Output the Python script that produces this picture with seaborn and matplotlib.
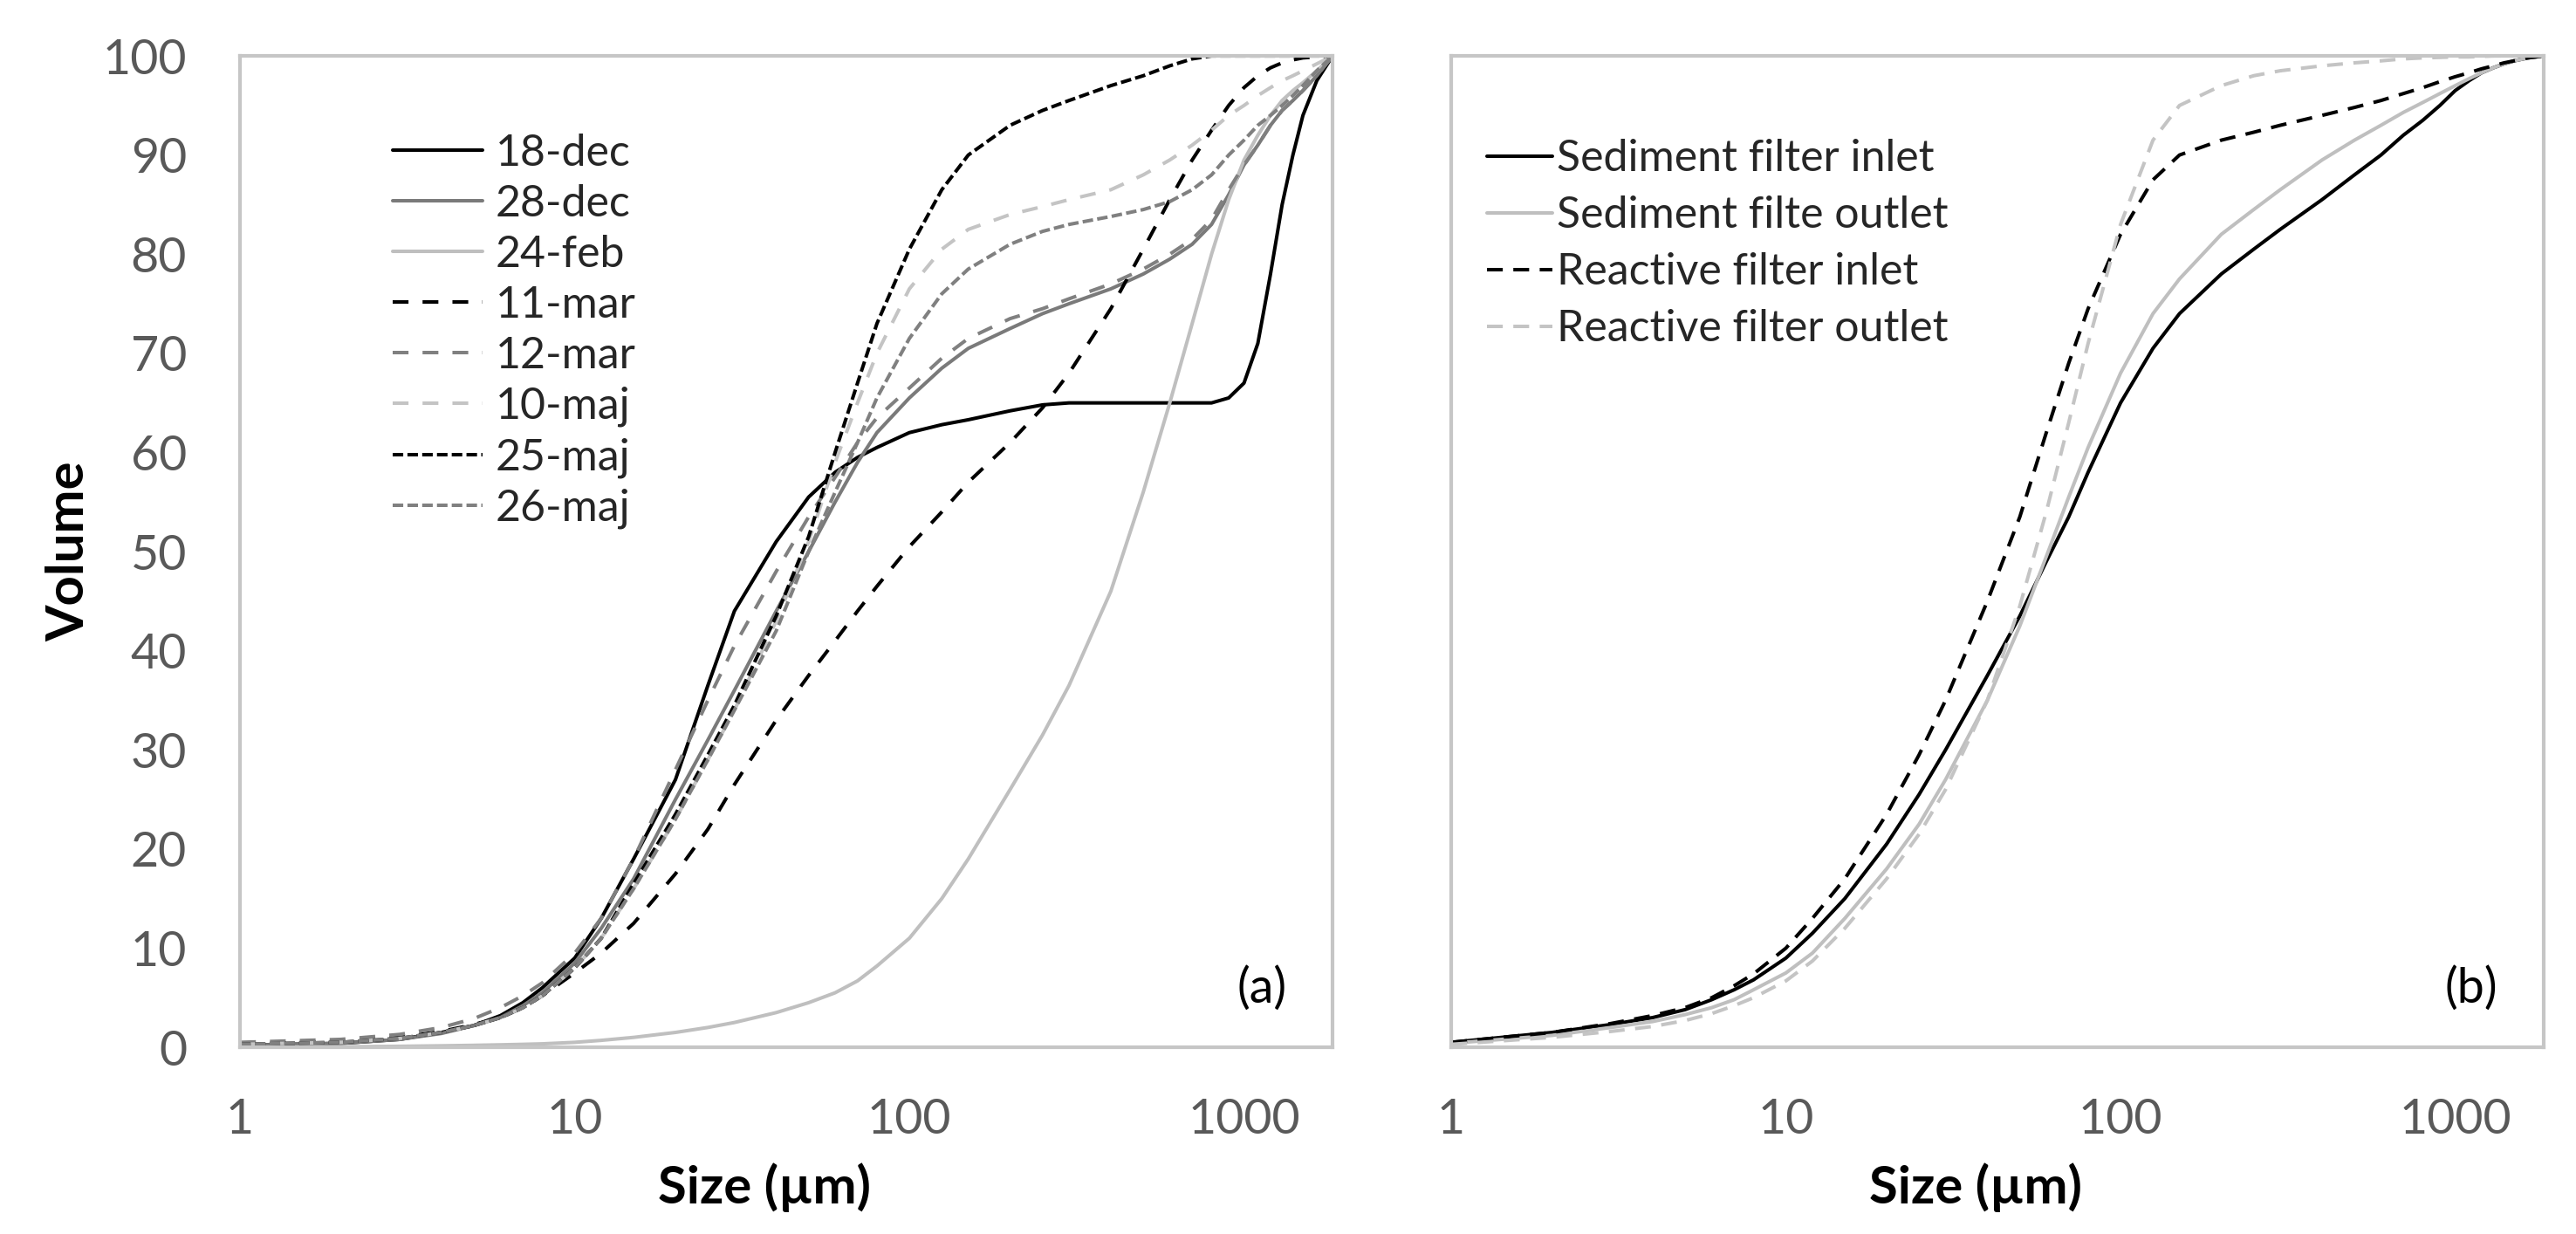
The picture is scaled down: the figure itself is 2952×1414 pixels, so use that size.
import pandas as pd
import matplotlib
matplotlib.use('Agg')
import matplotlib.pyplot as plt
import seaborn as sns

# particle size grid (µm), shared by all curves
size = [1, 2, 3, 4, 5, 6, 7, 8, 10, 12, 15, 20, 25, 30, 40, 50, 60, 70, 80, 100,
        125, 150, 200, 250, 300, 400, 500, 600, 700, 800, 900, 1000, 1100, 1200,
        1300, 1400, 1500, 1650, 1840]

# panel (a): cumulative volume per sampling date
dates = ['18-dec', '28-dec', '24-feb', '11-mar', '12-mar', '10-maj', '25-maj', '26-maj']
dec18 = [0.2, 0.4, 0.8, 1.5, 2.2, 3.2, 4.5, 6, 9, 13, 19, 27, 36.5, 44, 51, 55.5, 58, 59.5, 60.5, 62,
         62.8, 63.3, 64.2, 64.8, 65, 65, 65, 65, 65, 65, 65.5, 67, 71, 78, 85, 90, 94, 97.5, 100]
dec28 = [0.2, 0.4, 0.8, 1.4, 2.2, 3, 4.2, 5.5, 8.5, 12, 17, 25, 31, 36, 44, 50, 55, 59, 62, 65.5,
         68.5, 70.5, 72.5, 74, 75, 76.5, 78, 79.5, 81, 83, 86, 89, 91, 93, 94.5, 95.5, 96.5, 98, 100]
feb24 = [0, 0.05, 0.1, 0.15, 0.2, 0.25, 0.3, 0.35, 0.5, 0.7, 1, 1.5, 2, 2.5, 3.5, 4.5, 5.5, 6.7, 8.2, 11,
         15, 19, 26, 31.5, 36.5, 46, 56, 65, 73, 80, 85.5, 89.5, 92, 94, 95.5, 96.5, 97.3, 98.5, 100]
mar11 = [0.3, 0.6, 1, 1.6, 2.3, 3, 4, 5.2, 7.5, 9.5, 12.5, 17.5, 22, 26.5, 33, 37.5, 41, 44, 46.5, 50.5,
         54, 57, 61, 64.5, 68, 74.5, 80.5, 85.5, 89.5, 92.5, 95, 96.8, 98, 98.8, 99.3, 99.6, 99.8, 99.9, 100]
mar12 = [0.5, 0.8, 1.3, 2, 2.9, 4, 5.2, 6.5, 9.5, 13, 19, 28, 35, 40.5, 48, 53.5, 57.5, 61, 63.5, 66.5,
         69.5, 71.5, 73.5, 74.5, 75.5, 77, 78.5, 80, 81.5, 83.5, 86.5, 89, 91, 93, 94.5, 95.5, 96.5, 98, 100]
maj10 = [0.3, 0.5, 0.9, 1.5, 2.2, 3, 4, 5.2, 8, 11, 16, 23, 29, 34, 43, 51, 59, 65, 70, 76.5,
         80.5, 82.5, 84, 84.8, 85.5, 86.5, 88, 89.5, 91, 92.5, 94, 95, 96, 96.8, 97.5, 98, 98.5, 99.2, 100]
maj25 = [0.3, 0.5, 0.9, 1.5, 2.2, 3, 4, 5.2, 8, 11, 16.5, 23.5, 29.5, 34.5, 43.5, 51.5, 60, 67, 73, 80.5,
         86.5, 90, 93, 94.5, 95.5, 97, 98, 99, 99.7, 100, 100, 100, 100, 100, 100, 100, 100, 100, 100]
maj26 = [0.3, 0.5, 0.9, 1.5, 2.2, 3, 4, 5.2, 8, 11, 16, 23, 29, 34, 42, 50, 56, 61, 65.5, 71.5,
         76, 78.5, 81, 82.3, 83, 83.8, 84.5, 85.3, 86.5, 88, 90, 91.5, 93, 94, 95, 96, 97, 98.5, 100]

# panel (b): filter inlet / outlet
filters = ['Sediment filter inlet', 'Sediment filte outlet', 'Reactive filter inlet', 'Reactive filter outlet']
sed_in = [0.5, 1.5, 2.3, 3, 3.8, 4.8, 5.8, 6.8, 9, 11.5, 15, 20.5, 25.5, 30, 37.5, 43.5, 49, 53.5, 58, 65,
          70.5, 74, 78, 80.5, 82.5, 85.5, 88, 90, 92, 93.5, 95, 96.5, 97.5, 98.3, 98.8, 99.2, 99.5, 99.8, 100]
sed_out = [0.4, 1.2, 2, 2.6, 3.3, 4, 4.8, 5.8, 7.5, 9.5, 13, 18, 22.5, 27, 35, 42.5, 49.5, 55.5, 60.5, 68,
           74, 77.5, 82, 84.5, 86.5, 89.5, 91.5, 93, 94.3, 95.3, 96.2, 97, 97.7, 98.3, 98.8, 99.2, 99.5, 99.8, 100]
re_in = [0.5, 1.5, 2.4, 3.2, 4, 5, 6.2, 7.4, 10, 13, 17, 23.5, 29.5, 35, 45, 53.5, 62, 69, 74.5, 82,
         87.5, 90, 91.5, 92.3, 93, 94, 94.8, 95.5, 96.2, 96.8, 97.4, 97.9, 98.3, 98.7, 99, 99.3, 99.5, 99.8, 100]
re_out = [0.3, 1, 1.6, 2.1, 2.7, 3.4, 4.2, 5, 6.7, 8.7, 12, 17, 21.5, 26, 35, 44.5, 54, 63, 71, 83,
          91.5, 95, 97, 98, 98.5, 99, 99.3, 99.5, 99.7, 99.8, 99.85, 99.9, 99.9, 99.95, 100, 100, 100, 100, 100]

xtick_vals = [1, 10, 100, 1000]
xtick_labels = ['1', '10', '100', '1000']
ytick_vals = list(range(0, 101, 10))


def long_df(names, series):
    rows = []
    for n, s in zip(names, series):
        rows.append(pd.DataFrame({'size': size, 'volume': s, 'sample': n}))
    return pd.concat(rows, ignore_index=True)


df_a = long_df(dates, [dec18, dec28, feb24, mar11, mar12, maj10, maj25, maj26])
df_b = long_df(filters, [sed_in, sed_out, re_in, re_out])

sns.set_theme(style='white')
plt.rcParams['font.family'] = ['Lato', 'DejaVu Sans']

grey = '#c6c6c6'
long_dash = (4.5, 4)
short_dash = (3, 1.2)
pal_a = {'18-dec': '#000000', '28-dec': '#7a7a7a', '24-feb': '#bfbfbf', '11-mar': '#000000',
         '12-mar': '#808080', '10-maj': '#c4c4c4', '25-maj': '#000000', '26-maj': '#808080'}
dash_a = {'18-dec': '', '28-dec': '', '24-feb': '', '11-mar': long_dash, '12-mar': long_dash,
          '10-maj': long_dash, '25-maj': short_dash, '26-maj': short_dash}
pal_b = {filters[0]: '#000000', filters[1]: '#bfbfbf', filters[2]: '#000000', filters[3]: '#c4c4c4'}
dash_b = {filters[0]: '', filters[1]: '', filters[2]: (4.5, 3), filters[3]: (4.5, 3)}

fig, axes = plt.subplots(1, 2, figsize=(14.76, 7.07), dpi=200)
fig.subplots_adjust(left=0.0932, right=0.9875, bottom=0.1513, top=0.9547, wspace=0.1086)

panels = [(axes[0], df_a, dates, pal_a, dash_a, '(a)', (0.140, 0.922), 2.06, 0.28, 0.24),
          (axes[1], df_b, filters, pal_b, dash_b, '(b)', (0.0327, 0.916), 1.5, 0.1, 0.38)]

for ax, df, order, pal, dsh, tag, anchor, hl, htp, lsp in panels:
    sns.lineplot(data=df, x='size', y='volume', hue='sample', style='sample',
                 hue_order=order, style_order=order, palette=pal, dashes=dsh,
                 linewidth=1.45, estimator=None, sort=False, ax=ax)
    ax.set_xscale('log')
    ax.set_xlim(1, 1840)
    ax.set_ylim(0, 100)
    ax.set_xticks(xtick_vals, labels=xtick_labels)
    ax.minorticks_off()
    ax.set_yticks(ytick_vals)
    ax.tick_params(axis='both', direction='in', length=6.5, width=1.4, color=grey,
                   labelcolor='#595959', labelsize=20)
    ax.tick_params(axis='x', pad=21)
    ax.tick_params(axis='y', pad=22)
    for sp in ax.spines.values():
        sp.set_color(grey)
        sp.set_linewidth(1.5)
    ax.set_xlabel('Size (µm)', fontsize=21.5, fontweight='bold', color='black')
    ax.xaxis.set_label_coords(0.48, -0.116)
    ax.set_ylabel('')
    ax.text(0.958, 0.059, tag, transform=ax.transAxes, ha='right', va='center',
            fontsize=20, color='black')

    leg = ax.get_legend()
    handles = leg.legend_handles
    labels = [t.get_text() for t in leg.get_texts()]
    leg.remove()
    ax.legend(handles, labels, loc='upper left', bbox_to_anchor=anchor, frameon=False,
              fontsize=18, borderpad=0, borderaxespad=0, handlelength=hl,
              handletextpad=htp, labelspacing=lsp)

axes[0].set_ylabel('Volume', fontsize=21.5, fontweight='bold', color='black')
axes[0].yaxis.set_label_coords(-0.135, 0.5)
axes[1].tick_params(axis='y', labelleft=False)

plt.savefig('out.png', dpi=200)
